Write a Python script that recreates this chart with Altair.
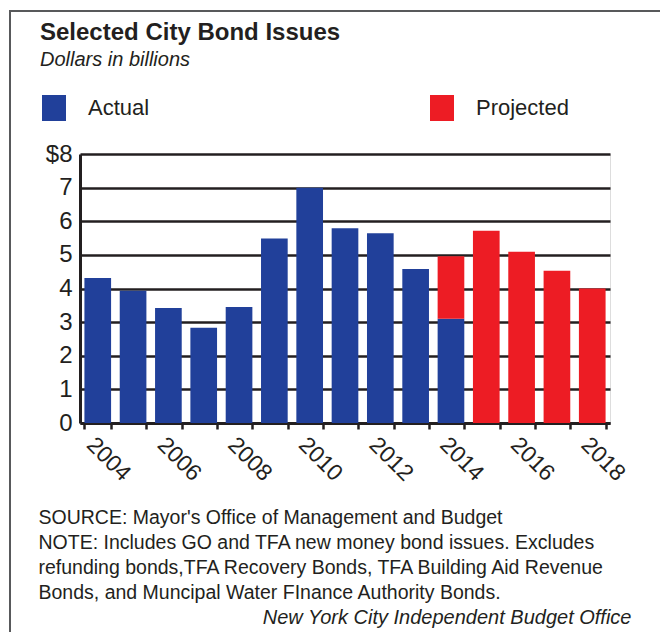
import altair as alt
import pandas as pd

years = [2004, 2005, 2006, 2007, 2008, 2009, 2010, 2011, 2012, 2013, 2014, 2015, 2016, 2017, 2018]
actual = [4.31, 3.93, 3.42, 2.83, 3.45, 5.49, 7.00, 5.79, 5.64, 4.58, 3.10, 0, 0, 0, 0]
projected = [0, 0, 0, 0, 0, 0, 0, 0, 0, 0, 1.86, 5.72, 5.09, 4.53, 4.00]
series = ["Actual", "Projected"]
colors = ["#21409a", "#ed1c24"]
y_ticks = [0, 1, 2, 3, 4, 5, 6, 7, 8]

title_text = "Selected City Bond Issues"
subtitle_text = "Dollars in billions"
notes = [
    "SOURCE: Mayor's Office of Management and Budget",
    "NOTE: Includes GO and TFA new money bond issues. Excludes",
    "refunding bonds,TFA Recovery Bonds, TFA Building Aid Revenue",
    "Bonds, and Muncipal Water FInance Authority Bonds.",
]
credit = "New York City Independent Budget Office"

rows = []
for i, y in enumerate(years):
    rows.append({"year": y, "series": "Actual", "value": actual[i], "ord": 0})
    rows.append({"year": y, "series": "Projected", "value": projected[i], "ord": 1})
df = pd.DataFrame(rows)

FONT = "Liberation Sans"
INK = "#231f20"

x_enc = alt.X(
    "year:O",
    scale=alt.Scale(paddingInner=0.245, paddingOuter=0.125),
    axis=alt.Axis(
        labelAngle=45,
        labelAlign="left",
        labelBaseline="top",
        labelFont=FONT,
        labelFontSize=23,
        labelColor=INK,
        labelPadding=4,
        labelOverlap=False,
        labelExpr="datum.value % 2 == 0 ? datum.label : ''",
        tickBand="extent",
        tickSize=6,
        tickWidth=2.5,
        tickColor=INK,
        domainColor=INK,
        domainWidth=3,
        grid=False,
        title=notes,
        titleFont=FONT,
        titleFontSize=19.5,
        titleFontWeight="normal",
        titleColor=INK,
        titleAlign="left",
        titleBaseline="alphabetic",
        titleLineHeight=25,
        titleX=-42,
        titleY=100,
        titleAngle=0,
    ),
)

bars = alt.Chart(df).mark_bar().encode(
    x=x_enc,
    y=alt.Y(
        "value:Q",
        stack="zero",
        scale=alt.Scale(domain=[0, 8], nice=False),
        axis=alt.Axis(
            values=y_ticks,
            labelExpr="datum.value == 8 ? '$8' : datum.label",
            labelFont=FONT,
            labelFontSize=24,
            labelColor=INK,
            labelPadding=8,
            ticks=False,
            domainColor=INK,
            domainWidth=3,
            grid=True,
            gridColor=INK,
            gridWidth=2.5,
            gridOpacity=1,
            title=None,
        ),
    ),
    color=alt.Color(
        "series:N",
        scale=alt.Scale(domain=series, range=colors),
        legend=alt.Legend(
            title=None,
            orient="none",
            legendX=-39,
            legendY=-59,
            direction="horizontal",
            columns=2,
            columnPadding=279,
            padding=0,
            symbolType="M-0.923,-1H0.923V1H-0.923Z",
            symbolSize=676,
            symbolStrokeWidth=0,
            labelOffset=21,
            labelFont=FONT,
            labelFontSize=22,
            labelColor=INK,
        ),
    ),
    order=alt.Order("ord:Q"),
)

credit_layer = alt.Chart(df).mark_bar(opacity=0).encode(
    x=alt.X("year:O"),
    y=alt.Y(
        "value:Q",
        axis=alt.Axis(
            orient="right",
            labels=False,
            ticks=False,
            domain=False,
            grid=False,
            title=credit,
            titleFont=FONT,
            titleFontSize=20,
            titleFontStyle="italic",
            titleFontWeight="normal",
            titleColor=INK,
            titleAngle=0,
            titleAlign="right",
            titleBaseline="alphabetic",
            titleX=21,
            titleY=469,
        ),
    ),
)

frame_df = pd.DataFrame({"k": [0]})
frame_left = alt.Chart(frame_df).mark_rule(color="#58595b", strokeWidth=2).encode(
    x=alt.value(-70), y=alt.value(-143), y2=alt.value(480)
)
frame_top = alt.Chart(frame_df).mark_rule(color="#58595b", strokeWidth=2).encode(
    x=alt.value(-71), x2=alt.value(582), y=alt.value(-143)
)

chart = (
    alt.layer(bars, credit_layer, frame_left, frame_top)
    .resolve_scale(y="independent")
    .properties(
        width=530,
        height=269,
        autosize=alt.AutoSizeParams(type="none"),
        padding={"left": 80, "top": 154, "right": 50, "bottom": 209},
        title=alt.TitleParams(
            text=title_text,
            subtitle=subtitle_text,
            anchor="start",
            frame="group",
            dx=-40,
            offset=-60,
            font=FONT,
            fontSize=24,
            fontWeight="bold",
            color=INK,
            subtitleFont=FONT,
            subtitleFontSize=20,
            subtitleFontStyle="italic",
            subtitleColor=INK,
            subtitlePadding=5,
        ),
    )
    .configure_view(strokeWidth=0, stroke="transparent")
    .configure(background="white")
)

chart.save("out.html", embed_options={"renderer": "svg", "actions": False})
